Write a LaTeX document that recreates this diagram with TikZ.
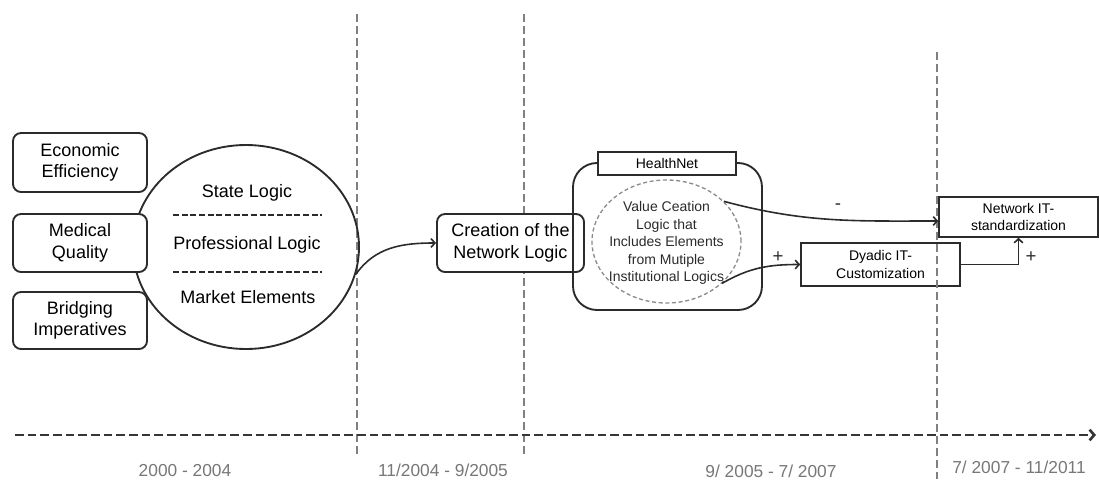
\documentclass[tikz,border=0pt]{standalone}
\usepackage{fontspec}
\setmainfont{Liberation Sans}
\usetikzlibrary{arrows.meta,shapes.geometric}
\definecolor{ink}{HTML}{2B2B2B}
\definecolor{vgray}{HTML}{808080}
\definecolor{lgray}{HTML}{777777}
\definecolor{egray}{HTML}{8C8C8C}
\begin{document}
\begin{tikzpicture}[x=0.75pt,y=-0.75pt,
  fsb/.style={font=\fontsize{13.5}{16}\selectfont},
  fsm/.style={font=\fontsize{10.5}{13.2}\selectfont},
  rbox/.style={draw=ink,line width=1.4pt,rounded corners=6pt,fill=white,align=center,inner sep=0pt,fsb},
  sbox/.style={draw=ink,line width=1.1pt,fill=white,align=center,inner sep=0pt,fsm},
  arr/.style={draw=ink,line width=1.2pt,-{Straight Barb[length=3pt,width=6.5pt]}},
  vline/.style={draw=vgray,line width=1.6pt,dash pattern=on 6pt off 3pt},
  axisline/.style={draw=ink!95,line width=2pt,dash pattern=on 6.5pt off 3pt,-{Straight Barb[length=3.5pt,width=8pt]}},
  sepline/.style={draw=ink,line width=1.1pt,dash pattern=on 4.5pt off 2pt},
  period/.style={text=lgray,font=\fontsize{13}{15}\selectfont},
  sign/.style={text=ink,font=\fontsize{14}{16}\selectfont}]
\useasboundingbox (0,0) rectangle (1099,479);

% Dyadic box first (vertical line passes over it)
\node[sbox,minimum width=119.25pt,minimum height=32.25pt] (dya) at (880.5,264.5) {Dyadic IT-\\Customization};

% vertical period separators
\coordinate (v1t) at (357,14); \coordinate (v1b) at (357,457);
\coordinate (v2t) at (524,14); \coordinate (v2b) at (524,457);
\coordinate (v3t) at (937,52); \coordinate (v3b) at (937,479);
\draw[vline] (v1t) -- (v1b);
\draw[vline] (v2t) -- (v2b);
\draw[vline] (v3t) -- (v3b);

% time axis
\coordinate (ax0) at (15,435); \coordinate (ax1) at (1096,435);
\draw[axisline] (ax0) -- (ax1);
\node[period] (p1) at (185,471) {2000 - 2004};
\node[period] (p2) at (443,470) {11/2004 - 9/2005};
\node[period] (p3) at (771,471) {9/ 2005 - 7/ 2007};
\node[period] (p4) at (1019,467) {7/ 2007 - 11/2011};

% logics circle
\node[ellipse,draw=ink,line width=1.4pt,minimum width=169.5pt,minimum height=153pt,inner sep=0pt] (circ) at (246,247) {};
\node[fsb] (state) at (247,193) {State Logic};
\node[fsb] (prof) at (247,245) {Professional Logic};
\node[fsb] (market) at (248,297) {Market Elements};
\coordinate (s1a) at (173,215); \coordinate (s1b) at (322,215);
\coordinate (s2a) at (173,272); \coordinate (s2b) at (322,272);
\draw[sepline] (s1a) -- (s1b);
\draw[sepline] (s2a) -- (s2b);

% imperatives boxes
\node[rbox,minimum width=100.5pt,minimum height=44.25pt] (econ) at (80,162.5) {Economic\\Efficiency};
\node[rbox,minimum width=100.5pt,minimum height=43.5pt] (med) at (80,243) {Medical\\Quality};
\node[rbox,minimum width=100.5pt,minimum height=42.75pt] (bridge) at (80,320.5) {Bridging\\Imperatives};

% creation
\node[rbox,minimum width=110.25pt,minimum height=43.5pt] (cre) at (510.5,243) {Creation of the\\Network Logic};
\draw[arr] (circ.-14) to[out=55,in=180] (cre.west);

% HealthNet
\node[draw=ink,line width=1.4pt,rounded corners=18pt,minimum width=141.75pt,minimum height=110.25pt,inner sep=0pt] (hbig) at (667.5,236.5) {};
\node[sbox,minimum width=103.5pt,minimum height=17.25pt] (hlab) at (667,163.5) {HealthNet};
\node[ellipse,draw=egray,line width=1pt,dash pattern=on 3pt off 2pt,minimum width=111.75pt,minimum height=92.25pt,inner sep=0pt] (vell) at (666.5,241.5) {};
\node[fsm,align=center,text=ink] (vtext) at (666.5,243) {Value Ceation\\Logic that\\Includes Elements\\from Mutiple\\Institutional Logics};

% IT nodes
\node[sbox,minimum width=119.25pt,minimum height=30pt] (nit) at (1018.5,217) {Network IT-\\standardization};

\draw[arr] (vell.35) to[out=-15,in=180] ([yshift=-3pt]nit.west);
\draw[arr] (vell.-37) to[out=30,in=180] (dya.west);
\draw[arr] (dya.east) -| (nit.south);

\node[sign] (minus) at (838,207) {-};
\node[sign] (plus1) at (778,257) {+};
\node[sign] (plus2) at (1031,257) {+};
\end{tikzpicture}
\end{document}
